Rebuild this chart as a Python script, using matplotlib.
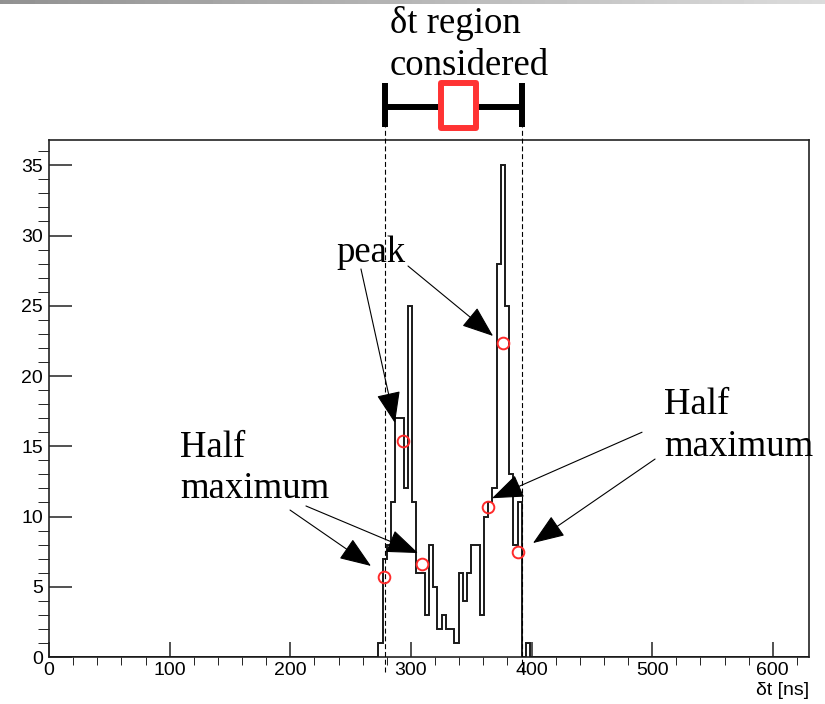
import numpy as np
import matplotlib.pyplot as plt
from matplotlib.patches import Rectangle
from matplotlib.ticker import MultipleLocator

plt.rcParams['font.family'] = ['Liberation Sans', 'DejaVu Sans']

# time difference histogram, 3.5 ns bins over 0-630 ns
bin_width = 3.5
n_bins = 180
first_bin = 78
counts = [1, 7, 8, 11, 17, 17, 12, 25, 11, 6, 6, 3, 8, 5, 2, 3, 2, 2, 1,
          6, 4, 6, 8, 8, 3, 10, 11, 12, 28, 35, 25, 13, 8, 11, 0, 1]

# peak / half-maximum points found on the two peaks
marker_t = [278.0, 293.3, 309.6, 364.2, 376.1, 389.0]
marker_n = [5.67, 15.37, 6.6, 10.68, 22.35, 7.49]

# selected dt window
region_lo, region_hi = 278.7, 391.7

# arrows: (tail, tip) in (ns, counts)
peak_arrows = [((258.6, 27.62), (286.8, 16.65)),
               ((297.6, 27.83), (368.1, 22.85))]
half_arrows = [((199.8, 10.46), (266.9, 6.48)),
               ((213.0, 10.75), (305.9, 7.40)),
               ((491.6, 16.0), (367.2, 11.3)),
               ((502.4, 14.09), (401.2, 8.11))]

edges = np.arange(n_bins + 1) * bin_width
values = np.zeros(n_bins)
values[first_bin:first_bin + len(counts)] = counts

fig = plt.figure(figsize=(8.25, 7.04), dpi=100)
ax = fig.add_axes([49/825, 1 - 657/704, 760/825, 517/704])

ax.stairs(values, edges, color='#1a1a1a', lw=1.4, zorder=3)
ax.plot(marker_t, marker_n, 'o', mfc='none', mec='#ff2a2a', ms=8.4, mew=1.4,
        zorder=7)

ax.set_xlim(0, 630)
ax.set_ylim(0, 36.8)
ax.xaxis.set_major_locator(MultipleLocator(100))
ax.xaxis.set_minor_locator(MultipleLocator(20))
ax.yaxis.set_major_locator(MultipleLocator(5))
ax.yaxis.set_minor_locator(MultipleLocator(1))
ax.tick_params(direction='in', colors='#222222', labelcolor='black',
               labelsize=14, width=1.1)
ax.tick_params(axis='x', which='major', length=10.8, pad=3.5)
ax.tick_params(axis='x', which='minor', length=5.8)
ax.tick_params(axis='y', which='major', length=16.6, pad=4.3)
ax.tick_params(axis='y', which='minor', length=8)
for s in ax.spines.values():
    s.set_linewidth(1.2)
    s.set_color('#222222')
ax.set_xlabel('δt [ns]', loc='right', fontsize=14, labelpad=2)

# window limits, bracket and box above the frame
for t in (region_lo, region_hi):
    ax.plot([t, t], [-1.07, 37.72], color='black', lw=0.8,
            ls=(0, (4.5, 2.5)), clip_on=False, zorder=4)
    ax.plot([t, t], [37.74, 40.84], color='black', lw=4.3,
            solid_capstyle='butt', clip_on=False)
ax.plot([region_lo, region_hi], [39.12, 39.12], color='black', lw=4.3,
        solid_capstyle='butt', clip_on=False)
ax.add_patch(Rectangle((325.3, 37.67), 28.7, 3.18, facecolor='white',
                       edgecolor='#ff3333', lw=4.3, joinstyle='round',
                       clip_on=False, zorder=5))

serif = dict(family=['Liberation Serif', 'DejaVu Serif'], fontsize=26.5,
             va='baseline', ha='left')
ax.text(282.3, 44.41, 'δt region', **serif)
ax.text(282.3, 41.42, 'considered', **serif)
ax.text(238.0, 28.11, 'peak', **serif)
ax.text(108.6, 14.23, 'Half', **serif)
ax.text(108.6, 11.32, 'maximum', **serif)
ax.text(509.8, 17.30, 'Half', **serif)
ax.text(509.8, 14.31, 'maximum', **serif)

arrow_style = dict(arrowstyle='-|>,head_length=1.0,head_width=0.38',
                   mutation_scale=20, color='black', lw=0.8,
                   shrinkA=0, shrinkB=0)
for tail, tip in peak_arrows + half_arrows:
    ax.annotate('', xy=tip, xytext=tail, arrowprops=arrow_style,
                annotation_clip=False, zorder=6)

# grey strip along the top edge
strip = fig.add_axes([0, 1 - 4/704, 1, 4/704])
strip.imshow(np.linspace(0.57, 0.86, 256)[None, :], cmap='gray',
             vmin=0, vmax=1, aspect='auto')
strip.axis('off')

fig.savefig('out.png', dpi=100)
